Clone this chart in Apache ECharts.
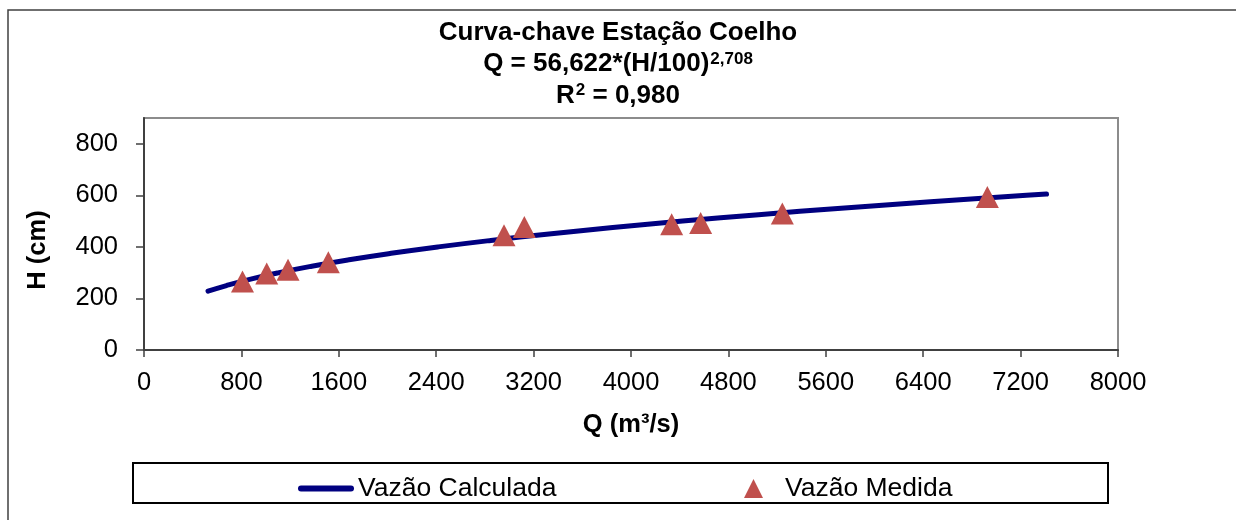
<!DOCTYPE html>
<html>
<head>
<meta charset="utf-8">
<script src="https://cdn.jsdelivr.net/npm/echarts@6/dist/echarts.min.js"></script>
<style>
html,body{margin:0;padding:0;background:#fff;}
#chart{width:1236px;height:520px;}
</style>
</head>
<body>
<div id="chart"></div>
<script>
// Curve (Vazão Calculada): Q (m³/s) and H (cm)
var curveQ = [526, 677, 876, 1109, 1378, 1684, 2030, 2417, 2849, 3326, 3850, 4424, 5048, 5726, 6459, 7248, 7413];
var curveH = [228, 250, 275, 300, 325, 350, 375, 400, 425, 450, 475, 500, 525, 550, 575, 600, 605];
// Measured points (Vazão Medida)
var measuredQ = [809, 1008, 1183, 1514, 2957, 3124, 4334, 4572, 5243, 6927];
var measuredH = [266, 297, 311, 340, 445, 477, 488, 493, 530, 594];
// Tick values
var xTicks = [0, 800, 1600, 2400, 3200, 4000, 4800, 5600, 6400, 7200, 8000];
var yTicks = [0, 200, 400, 600, 800];
var seriesNames = ['Vazão Calculada', 'Vazão Medida'];

var FONT = '"Liberation Sans", Arial, sans-serif';
var chart = echarts.init(document.getElementById('chart'));

var curveData = curveQ.map(function (q, i) { return [q, curveH[i]]; });
var measData = measuredQ.map(function (q, i) { return [q, measuredH[i]]; });
var plain = function (v) { return String(v); };

chart.setOption({
  animation: false,
  backgroundColor: '#ffffff',
  title: {
    left: 'center',
    top: 12,
    text: '{a|Curva-chave Estação Coelho}\n{a|Q = 56,622*(H/100)}{s|2,708}\n{a|R}{s|2}{a| = 0,980}',
    textStyle: {
      fontFamily: FONT,
      rich: {
        a: {fontFamily: FONT, fontSize: 26, fontWeight: 'bold', color: '#000', lineHeight: 31.5},
        s: {fontFamily: FONT, fontSize: 17, fontWeight: 'bold', color: '#000', lineHeight: 31.5, verticalAlign: 'top', padding: [2, 0, 0, 1]}
      }
    }
  },
  grid: {
    left: 144, top: 118, right: 118, bottom: 170,
    show: true, borderColor: '#8c8c8c', borderWidth: 2, backgroundColor: '#fff'
  },
  xAxis: {
    type: 'value', min: 0, max: 8000, interval: 800,
    name: 'Q (m³/s)', nameLocation: 'middle', nameGap: 62,
    nameTextStyle: {fontFamily: FONT, fontSize: 25.5, fontWeight: 'bold', color: '#000'},
    axisLine: {show: true, lineStyle: {color: '#404040', width: 2}},
    axisTick: {show: true, length: 7, lineStyle: {color: '#404040', width: 1.5}, customValues: xTicks},
    axisLabel: {fontFamily: FONT, fontSize: 25.5, color: '#000', margin: 20, customValues: xTicks, formatter: plain},
    splitLine: {show: false}
  },
  yAxis: {
    type: 'value', min: 0, max: 900, interval: 100,
    axisLine: {show: true, lineStyle: {color: '#404040', width: 2}},
    axisTick: {show: true, length: 8, lineStyle: {color: '#404040', width: 1.5}, customValues: yTicks},
    axisLabel: {fontFamily: FONT, fontSize: 25.5, color: '#000', margin: 26, customValues: yTicks, formatter: plain},
    splitLine: {show: false}
  },
  legend: [
    {
      data: [{name: seriesNames[0], icon: 'path://M3,0 L53,0 A3,3 0 0 1 53,6 L3,6 A3,3 0 0 1 3,0 Z'}],
      left: 293, top: 470, itemWidth: 56, itemHeight: 6, itemGap: 0,
      selectedMode: false,
      textStyle: {fontFamily: FONT, fontSize: 26.5, color: '#000', padding: [0, 0, 0, -1]}
    },
    {
      data: [{name: seriesNames[1], icon: 'triangle'}],
      left: 739, top: 470, itemWidth: 19, itemHeight: 19, itemGap: 0,
      selectedMode: false,
      textStyle: {fontFamily: FONT, fontSize: 26.5, color: '#000', padding: [0, 0, 0, 17]}
    }
  ],
  graphic: [
    {type: 'polyline', silent: true, shape: {points: [[8, 520], [8, 10], [1236, 10]]},
      style: {stroke: '#404040', lineWidth: 1.5, fill: null}},
    {type: 'rect', silent: true, shape: {x: 133, y: 463, width: 975, height: 40},
      style: {stroke: '#000', lineWidth: 2, fill: null}, z: -1},
    {type: 'text', silent: true, x: 38, y: 250, rotation: Math.PI / 2,
      style: {text: 'H (cm)', fontFamily: FONT, fontSize: 25.5, fontWeight: 'bold', fill: '#000', align: 'center', verticalAlign: 'middle'}}
  ],
  series: [
    {
      name: seriesNames[0], type: 'line', data: curveData, smooth: true,
      symbol: 'none', showSymbol: false,
      lineStyle: {color: '#000080', width: 5, cap: 'round'},
      itemStyle: {color: '#000080'}, z: 2
    },
    {
      name: seriesNames[1], type: 'scatter', data: measData,
      symbol: 'triangle', symbolSize: [23, 22],
      itemStyle: {color: '#C0504D', opacity: 1}, z: 3
    }
  ]
});
</script>
</body>
</html>
